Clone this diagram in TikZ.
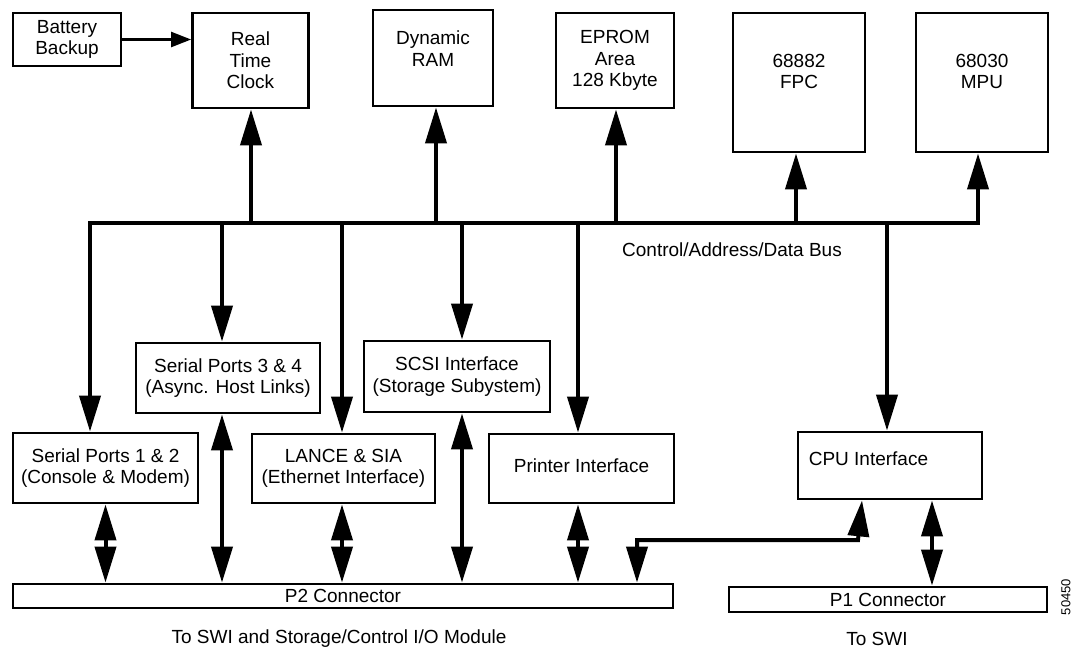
\documentclass[tikz,border=0pt]{standalone}
\usepackage{fontspec}
\setmainfont{Liberation Sans}
\usetikzlibrary{arrows.meta}
\begin{document}
\begin{tikzpicture}[x=1pt,y=-1pt,
  box/.style={draw, line width=2.8pt, inner sep=0pt, align=center, font=\fontsize{19}{21.5}\selectfont},
  txt/.style={inner sep=0pt, align=center, font=\fontsize{19}{21.5}\selectfont},
  bus/.style={line width=4pt, line join=miter},
  bigtip/.tip={Triangle[length=36pt,width=21pt]},
  busarr/.style={line width=4pt, -bigtip},
  dbl/.style={line width=4pt, line join=miter, bigtip-bigtip},
  thinarr/.style={line width=2.4pt, -{Triangle[length=20pt,width=15pt]}}]

\useasboundingbox (0,0) rectangle (1074,649);

% top row
\node[box, minimum width=108pt, minimum height=53pt] (bat) at (67,39.5) {Battery\\Backup};
\node[box, minimum width=116pt, minimum height=95pt] (rtc) at (250.5,60.5) {Real\\Time\\Clock};
\node[box, minimum width=120pt, minimum height=96pt] (dram) at (433,58) {};
\node[txt, anchor=north] (dramtxt) at ([yshift=-22pt]dram.north) {Dynamic\\RAM};
\node[box, minimum width=118pt, minimum height=95pt] (eprom) at (615,60.5) {EPROM\\Area\\128 Kbyte};
\node[box, minimum width=132pt, minimum height=139pt] (fpc) at (799,82.5) {};
\node[txt, anchor=north] (fpctxt) at ([yshift=-42pt]fpc.north) {68882\\FPC};
\node[box, minimum width=132pt, minimum height=139pt] (mpu) at (982,82.5) {};
\node[txt, anchor=north] (mputxt) at ([yshift=-42pt]mpu.north) {68030\\MPU};

% middle row
\node[box, minimum width=184pt, minimum height=70pt] (sp34) at (228,378) {Serial Ports 3 \& 4\\(Async. Host Links)};
\node[box, minimum width=186pt, minimum height=71pt] (scsi) at (457,376.5) {SCSI Interface\\(Storage Subystem)};

% lower row
\node[box, minimum width=185pt, minimum height=70pt] (sp12) at (105.5,468) {Serial Ports 1 \& 2\\(Console \& Modem)};
\node[box, minimum width=183pt, minimum height=69pt] (lance) at (343.5,468.5) {LANCE \& SIA\\(Ethernet Interface)};
\node[box, minimum width=185pt, minimum height=69pt] (prn) at (581.5,468.5) {};
\node[txt] (prntxt) at ([yshift=3pt]prn.center) {Printer Interface};
\node[box, minimum width=184pt, minimum height=67pt] (cpu) at (890,465.5) {};
\node[txt, anchor=west] (cputxt) at ([xshift=12pt,yshift=7pt]cpu.west) {CPU Interface};

% connectors
\node[box, minimum width=660pt, minimum height=24pt] (p2) at (343,596) {P2 Connector};
\node[box, minimum width=318pt, minimum height=25pt] (p1) at (888,599.5) {P1 Connector};

% bus coordinates
\coordinate (busL) at (90,223);
\coordinate (busR) at (978,223);
\coordinate (tRTC) at (251,223);
\coordinate (tDRAM) at (436,223);
\coordinate (tEPROM) at (616,223);
\coordinate (tFPC) at (796,223);
\coordinate (tSP34) at (222,223);
\coordinate (tLANCE) at (342,223);
\coordinate (tSCSI) at (462,223);
\coordinate (tPRN) at (578,223);
\coordinate (tCPU) at (887,223);

% main bus with its two end branches
\draw[bus, bigtip-bigtip] (busL |- sp12.north) -- (busL) -- (busR) -- (busR |- mpu.south);

% up to memory / processors
\draw[busarr] (tRTC) -- (tRTC |- rtc.south);
\draw[busarr] (tDRAM) -- (tDRAM |- dram.south);
\draw[busarr] (tEPROM) -- (tEPROM |- eprom.south);
\draw[busarr] (tFPC) -- (tFPC |- fpc.south);

% down to interfaces
\draw[busarr] (tSP34) -- (tSP34 |- sp34.north);
\draw[busarr] (tLANCE) -- (tLANCE |- lance.north);
\draw[busarr] (tSCSI) -- (tSCSI |- scsi.north);
\draw[busarr] (tPRN) -- (tPRN |- prn.north);
\draw[busarr] (tCPU) -- (tCPU |- cpu.north);

% battery
\draw[thinarr] (bat.east) -- (bat.east -| rtc.west);

% interfaces to connectors
\draw[dbl] (sp12.south) -- (sp12.south |- p2.north);
\draw[dbl] (tSP34 |- sp34.south) -- (tSP34 |- p2.north);
\draw[dbl] (tLANCE |- lance.south) -- (tLANCE |- p2.north);
\draw[dbl] (tSCSI |- scsi.south) -- (tSCSI |- p2.north);
\draw[dbl] (tPRN |- prn.south) -- (tPRN |- p2.north);
\coordinate (cP1) at (932,550);
\draw[dbl] (cP1 |- cpu.south) -- (cP1 |- p1.north);
\coordinate (k1) at (637,540);
\coordinate (k2) at (858,540);
\coordinate (k3) at (862,520);
\draw[dbl] (k1 |- p2.north) -- (k1) -- (k2) -- (k3 |- cpu.south);

% labels
\node[txt] (buslbl) at (732,250) {Control/Address/Data Bus};
\node[txt] (lblP2) at (339,639) {To SWI and Storage/Control I/O Module};
\node[txt] (lblP1) at (877,639) {To SWI};
\node[inner sep=0pt, rotate=90, font=\fontsize{13}{15}\selectfont] (fig) at (1066,597) {50450};
\end{tikzpicture}
\end{document}
